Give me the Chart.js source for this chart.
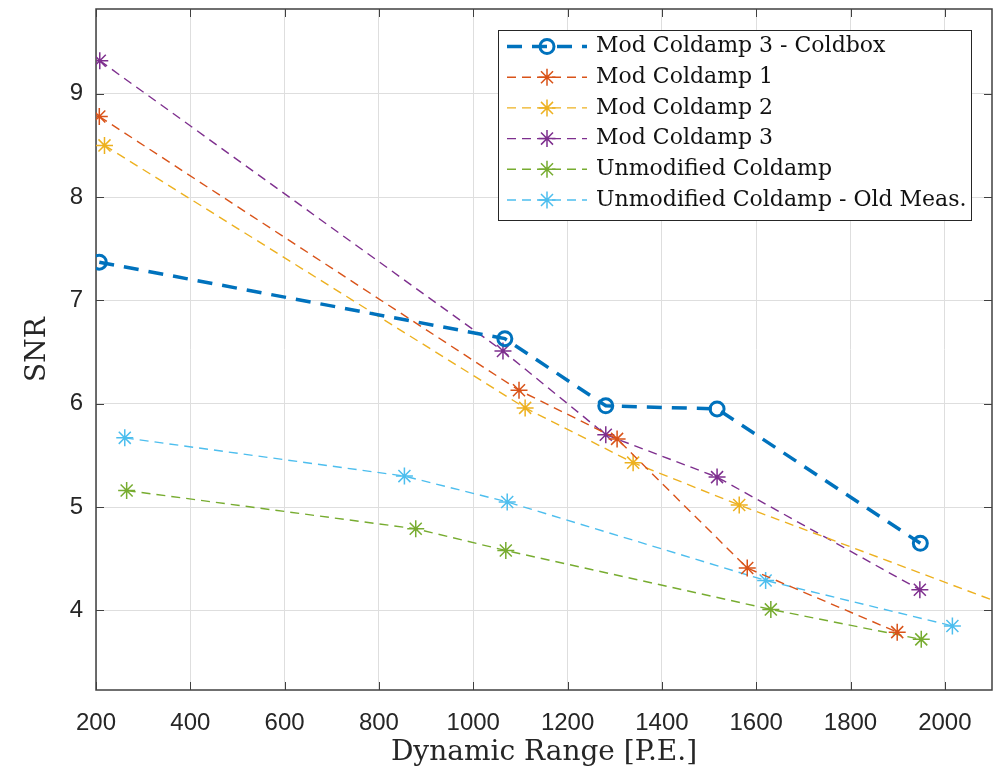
<!DOCTYPE html>
<html>
<head>
<meta charset="utf-8">
<script src="https://cdn.jsdelivr.net/npm/chart.js@4.4.1/dist/chart.umd.min.js"></script>
<style>
  html, body { margin: 0; padding: 0; background: #fff; }
  #wrap { width: 997px; height: 773px; }
</style>
</head>
<body>
<div id="wrap"><canvas id="snrChart"></canvas></div>
<script>
/* ===============================
   DATA
================================ */
const seriesNames = [
  "Mod Coldamp 3 - Coldbox",
  "Mod Coldamp 1",
  "Mod Coldamp 2",
  "Mod Coldamp 3",
  "Unmodified Coldamp",
  "Unmodified Coldamp - Old Meas."
];

const coldboxX = [207, 1067, 1281, 1517, 1948];
const coldboxY = [7.37, 6.63, 5.98, 5.95, 4.65];

const mod1X = [207, 1097, 1305, 1581, 1899];
const mod1Y = [8.78, 6.13, 5.66, 4.41, 3.79];

const mod2X = [218, 1110, 1339, 1564, 2200];
const mod2Y = [8.50, 5.96, 5.43, 5.02, 3.93];

const mod3X = [208, 1063, 1281, 1517, 1947];
const mod3Y = [9.32, 6.51, 5.70, 5.29, 4.20];

const unmodX = [265, 878, 1069, 1631, 1950];
const unmodY = [5.16, 4.79, 4.58, 4.01, 3.72];

const oldMeasX = [261, 854, 1072, 1620, 2016];
const oldMeasY = [5.67, 5.30, 5.05, 4.29, 3.85];

const xTicks = [200, 400, 600, 800, 1000, 1200, 1400, 1600, 1800, 2000];
const yTicks = [4, 5, 6, 7, 8, 9];

/* MATLAB default colour order */
const colors = ["#0072BD", "#D95319", "#EDB120", "#7E2F8E", "#77AC30", "#4DBEEE"];

/* -------------------------------
   Helpers
-------------------------------- */
function toPoints(xs, ys) {
  return xs.map((x, i) => ({ x: x, y: ys[i] }));
}

function thinSeries(i, xs, ys) {
  return {
    label: seriesNames[i],
    data: toPoints(xs, ys),
    borderColor: colors[i],
    borderWidth: 1.4,
    borderDash: [9, 6],
    pointStyle: "star",
    pointRadius: 8.5,
    pointBorderWidth: 1.5,
    pointBorderColor: colors[i],
    pointBackgroundColor: colors[i],
    tension: 0
  };
}

const datasets = [
  {
    label: seriesNames[0],
    data: toPoints(coldboxX, coldboxY),
    borderColor: colors[0],
    borderWidth: 3.5,
    borderDash: [15, 10],
    pointStyle: "circle",
    pointRadius: 7,
    pointBorderWidth: 3,
    pointBorderColor: colors[0],
    pointBackgroundColor: "rgba(0,0,0,0)",
    tension: 0
  },
  thinSeries(1, mod1X, mod1Y),
  thinSeries(2, mod2X, mod2Y),
  thinSeries(3, mod3X, mod3Y),
  thinSeries(4, unmodX, unmodY),
  thinSeries(5, oldMeasX, oldMeasY)
];

/* ===============================
   AXES BOX + INNER TICKS + LEGEND
================================ */
const matlabAxes = {
  id: "matlabAxes",

  beforeDatasetsDraw(chart) {
    const { ctx, chartArea: a, scales } = chart;
    const tl = 8;

    ctx.save();
    ctx.strokeStyle = "#404040";
    ctx.lineWidth = 1.5;
    ctx.setLineDash([]);
    ctx.strokeRect(a.left, a.top, a.right - a.left, a.bottom - a.top);

    ctx.lineWidth = 1;
    ctx.beginPath();
    xTicks.forEach(v => {
      const px = Math.round(scales.x.getPixelForValue(v)) + 0.5;
      ctx.moveTo(px, a.bottom); ctx.lineTo(px, a.bottom - tl);
      ctx.moveTo(px, a.top);    ctx.lineTo(px, a.top + tl);
    });
    yTicks.forEach(v => {
      const py = Math.round(scales.y.getPixelForValue(v)) + 0.5;
      ctx.moveTo(a.left, py);  ctx.lineTo(a.left + tl, py);
      ctx.moveTo(a.right, py); ctx.lineTo(a.right - tl, py);
    });
    ctx.stroke();
    ctx.restore();
  },

  afterDraw(chart) {
    const { ctx, chartArea: a } = chart;
    const boxW = 473, boxH = 190;
    const bx = a.right - 21 - boxW;
    const by = a.top + 21;
    const rowH = 30.7;

    ctx.save();
    ctx.fillStyle = "#fff";
    ctx.fillRect(bx, by, boxW, boxH);
    ctx.strokeStyle = "#262626";
    ctx.lineWidth = 1;
    ctx.strokeRect(bx + 0.5, by + 0.5, boxW, boxH);

    chart.data.datasets.forEach((ds, i) => {
      const cy = by + 16.5 + i * rowH;
      const x0 = bx + 9, x1 = bx + 89, cx = (x0 + x1) / 2;

      // sample line
      ctx.strokeStyle = ds.borderColor;
      ctx.lineWidth = ds.borderWidth;
      ctx.setLineDash(ds.borderDash);
      ctx.beginPath();
      ctx.moveTo(x0, cy);
      ctx.lineTo(x1, cy);
      ctx.stroke();

      // marker
      ctx.setLineDash([]);
      ctx.strokeStyle = ds.pointBorderColor;
      ctx.fillStyle = ds.pointBackgroundColor;
      ctx.lineWidth = ds.pointBorderWidth;
      Chart.helpers.drawPoint(ctx, {
        pointStyle: ds.pointStyle,
        radius: ds.pointRadius,
        borderWidth: ds.pointBorderWidth,
        rotation: 0
      }, cx, cy);

      // label
      ctx.fillStyle = "#111";
      ctx.font = "22px 'DejaVu Serif'";
      ctx.textAlign = "left";
      ctx.textBaseline = "middle";
      ctx.fillText(ds.label, bx + 98, cy);
    });
    ctx.restore();
  }
};

/* ===============================
   CHART
================================ */
new Chart(document.getElementById("snrChart"), {
  type: "line",
  data: { datasets: datasets },
  options: {
    responsive: true,
    maintainAspectRatio: false,
    animation: false,
    layout: {
      autoPadding: false,
      padding: { top: 9, right: 5, left: 0, bottom: 0 }
    },
    plugins: {
      legend: { display: false },
      tooltip: { enabled: false }
    },
    scales: {
      x: {
        type: "linear",
        min: 200,
        max: 2100,
        afterFit: s => {
          s.height = 83;
          s.paddingLeft = 0;
          s.paddingRight = 0;
        },
        afterBuildTicks: s => { s.ticks = xTicks.map(v => ({ value: v })); },
        grid: { color: "#dedede", drawTicks: false },
        border: { display: false },
        ticks: {
          autoSkip: false,
          maxRotation: 0,
          padding: 19,
          color: "#262626",
          font: { family: "'Liberation Sans', Arial", size: 24 },
          callback: v => String(v)
        },
        title: {
          display: true,
          text: "Dynamic Range [P.E.]",
          color: "#262626",
          font: { family: "'DejaVu Serif'", size: 28 },
          padding: { top: 0, bottom: 3 }
        }
      },
      y: {
        type: "linear",
        min: 3.23,
        max: 9.82,
        afterFit: s => {
          s.width = 96;
          s.paddingTop = 0;
          s.paddingBottom = 0;
        },
        afterBuildTicks: s => { s.ticks = yTicks.map(v => ({ value: v })); },
        grid: { color: "#dedede", drawTicks: false },
        border: { display: false },
        ticks: {
          padding: 13,
          color: "#262626",
          font: { family: "'Liberation Sans', Arial", size: 24 },
          callback: v => String(v)
        },
        title: {
          display: true,
          text: "SNR",
          color: "#262626",
          font: { family: "'DejaVu Serif'", size: 28 },
          padding: { top: 21, bottom: 0 }
        }
      }
    }
  },
  plugins: [matlabAxes]
});
</script>
</body>
</html>
